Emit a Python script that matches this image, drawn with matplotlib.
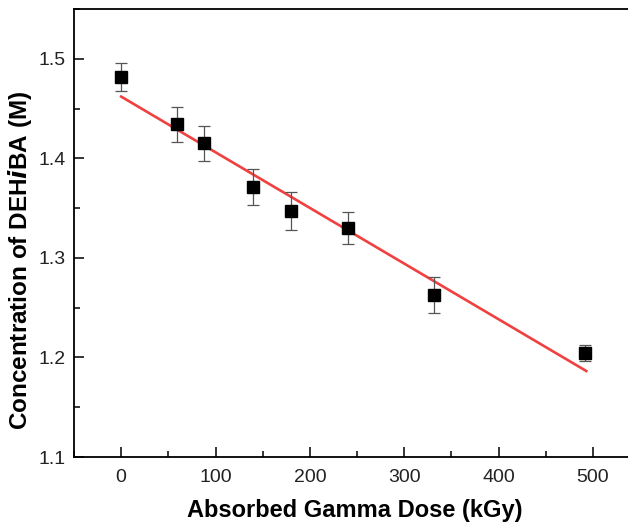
import numpy as np
import matplotlib.pyplot as plt
from matplotlib.ticker import MultipleLocator

plt.rcParams['font.family'] = ['Liberation Sans', 'DejaVu Sans']

dose = [0, 59, 88, 140, 180, 240, 332, 492]
conc = [1.482, 1.434, 1.415, 1.371, 1.347, 1.330, 1.263, 1.204]
err = [0.014, 0.018, 0.0175, 0.018, 0.019, 0.016, 0.018, 0.008]

# linear fit line
fit_intercept = 1.462
fit_slope = -0.000559
fit_x = np.array([0, 493])
fit_y = fit_intercept + fit_slope * fit_x

fig = plt.figure(figsize=(6.28, 5.22), dpi=100)
ax = fig.add_axes([74 / 628, 65 / 522, 566 / 628, 448 / 522])

ax.plot(fit_x, fit_y, color='#f04040', lw=1.9, zorder=2)
ax.errorbar(dose, conc, yerr=err, fmt='s', color='black', ms=8,
            ecolor='#555555', elinewidth=0.9, capsize=4.5, capthick=0.9, zorder=3)

ax.set_xlim(-50, 550)
ax.set_ylim(1.1, 1.55)
ax.xaxis.set_major_locator(MultipleLocator(100))
ax.xaxis.set_minor_locator(MultipleLocator(50))
ax.yaxis.set_major_locator(MultipleLocator(0.1))
ax.yaxis.set_minor_locator(MultipleLocator(0.05))
ax.tick_params(which='both', direction='in', labelsize=14, width=1.1,
               top=False, right=False, labelcolor='#222222')
ax.tick_params(which='major', length=7, pad=9)
ax.tick_params(which='minor', length=4)
ax.tick_params(axis='y', which='major', pad=6)
ax.set_yticks([1.1, 1.2, 1.3, 1.4, 1.5])
ax.set_yticklabels(['1.1', '1.2', '1.3', '1.4', '1.5'])
for s in ['left', 'bottom', 'top']:
    ax.spines[s].set_linewidth(1.3)
ax.spines['right'].set_visible(False)

fig.text(355 / 628, 11 / 522, 'Absorbed Gamma Dose (kGy)', fontsize=17,
         fontweight='bold', ha='center', va='center')
fig.text(20 / 628, 262 / 522, 'Concentration of DEH$\\boldsymbol{i}$BA (M)',
         fontsize=17.5, fontweight='bold', rotation=90, ha='center', va='center')

fig.savefig('out.png', dpi=100)
